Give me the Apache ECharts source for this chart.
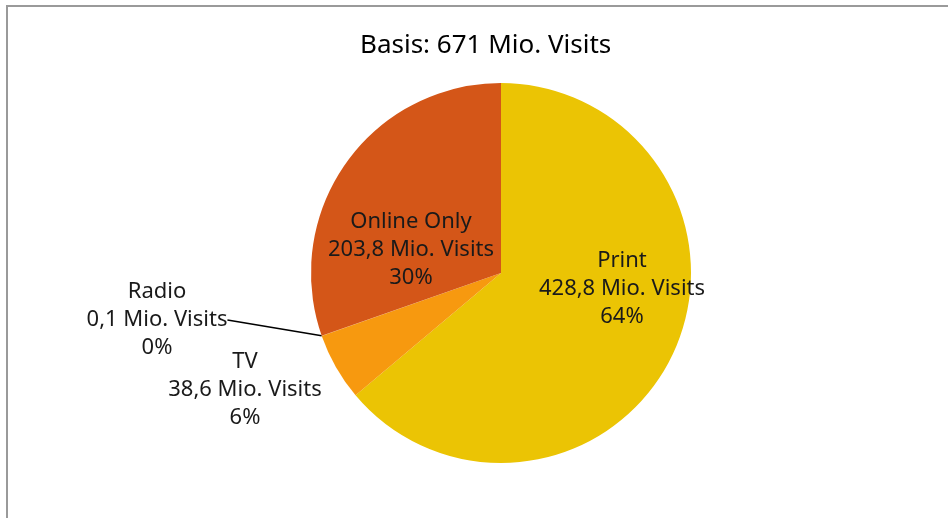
<!DOCTYPE html>
<html><head><meta charset="utf-8">
<script src="https://cdn.jsdelivr.net/npm/echarts@6/dist/echarts.min.js"></script>
<style>html,body{margin:0;padding:0;background:#fff}#c{width:948px;height:518px}</style>
</head><body><div id="c"></div>
<script>
const categories = ['Print', 'TV', 'Radio', 'Online Only'];
const visits = [428.8, 38.6, 0.1, 203.8];
const titleText = 'Basis: 671 Mio. Visits';
const unitText = 'Mio. Visits';

const colors = ['#EBC404', '#F7990F', '#F7990F', '#D45618'];
const labelPos = [[622, 289], [245, 390], [157, 320], [411, 250]];

const chart = echarts.init(document.getElementById('c'), null, {renderer: 'canvas'});
const data = categories.map((name, i) => ({
  name: name,
  value: visits[i],
  itemStyle: {color: colors[i]},
  labelLine: {show: name === 'Radio'}
}));
chart.setOption({
  animation: false,
  backgroundColor: '#fff',
  title: {
    text: titleText,
    left: 355, top: 28,
    textStyle: {fontFamily: 'Noto Sans', fontSize: 26, fontWeight: 'normal', color: '#000'}
  },
  graphic: [{
    type: 'rect', silent: true,
    shape: {x: 7, y: 6, width: 1200, height: 1200},
    style: {fill: 'none', stroke: '#9a9a9a', lineWidth: 2}
  }],
  series: [{
    type: 'pie',
    center: [501, 273],
    radius: 190,
    startAngle: 90,
    clockwise: true,
    avoidLabelOverlap: false,
    silent: true,
    data: data,
    label: {
      show: true,
      position: 'outside',
      fontFamily: 'Noto Sans',
      fontSize: 22,
      lineHeight: 28,
      color: '#1a1a1a',
      align: 'center',
      formatter: p => p.name + '\n' + p.value.toFixed(1).replace('.', ',') + ' ' + unitText + '\n' + Math.round(p.percent) + '%'
    },
    labelLine: {show: false, length: 10, length2: 0, lineStyle: {color: '#000', width: 1.5}},
    labelLayout: function (params) {
      const p = labelPos[params.dataIndex];
      return {x: p[0], y: p[1], align: 'center', verticalAlign: 'middle'};
    }
  }]
});
</script></body></html>
